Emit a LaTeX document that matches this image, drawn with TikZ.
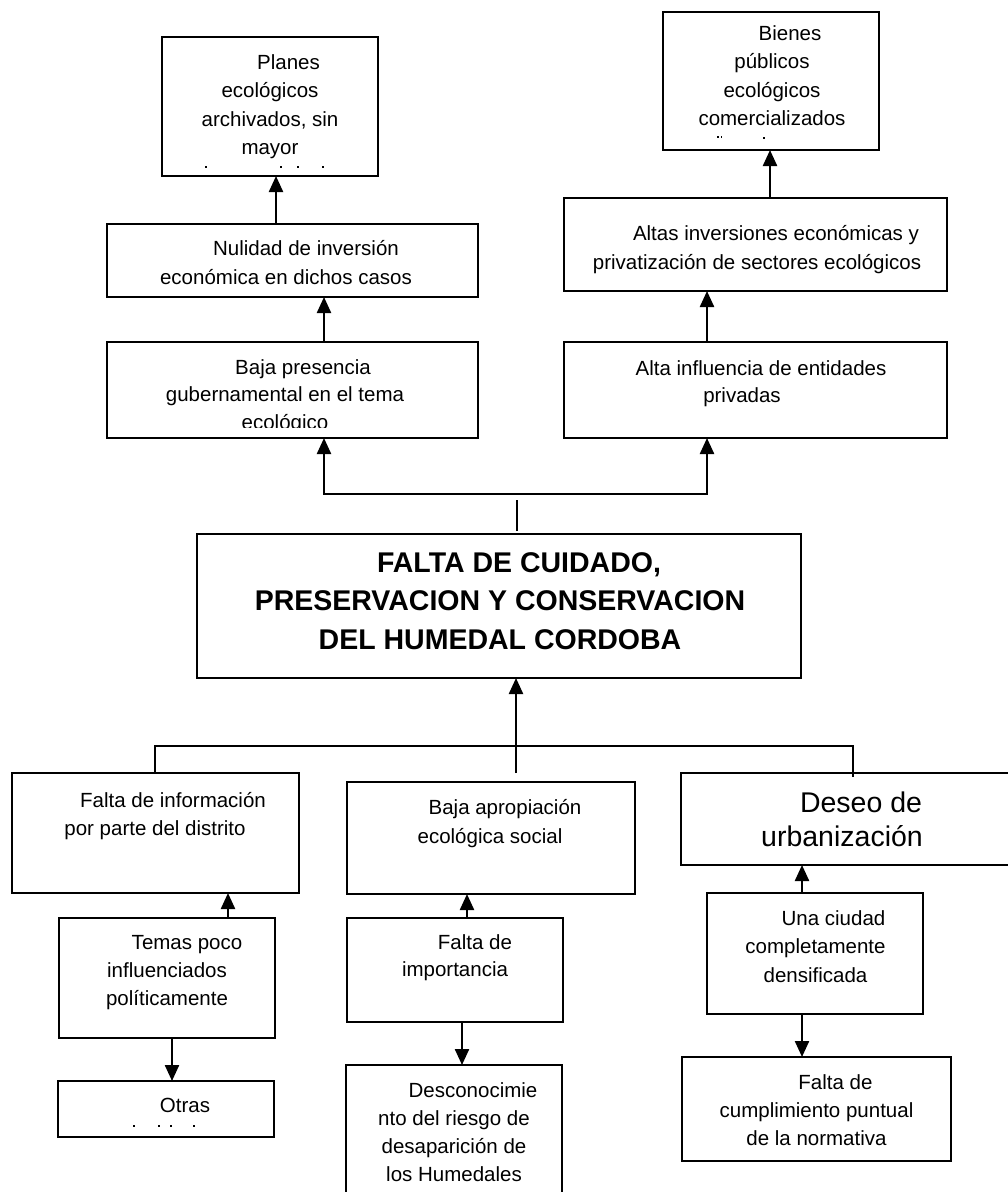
\documentclass[tikz,border=0pt]{standalone}
\usepackage{fontspec}
\setmainfont{Liberation Sans}
\usetikzlibrary{arrows.meta}
\begin{document}
\begin{tikzpicture}[x=1pt,y=-1pt,
  box/.style={draw, line width=1.9pt, inner sep=0pt, outer sep=0pt, rectangle},
  txt/.style={anchor=north, align=center, inner sep=0pt, font=\fontsize{20.5}{28.5}\selectfont},
  arr/.style={line width=2.3pt, -{Triangle[length=16pt,width=14pt]}},
  thinline/.style={line width=1.5pt},
  remn/.style={fill=black}]
\useasboundingbox (0,0) rectangle (1008,1192);
\fill[white] (0,0) rectangle (1008,1192);
\clip (0,0) rectangle (1008,1192);
\newcommand{\st}{\rule{0pt}{20pt}}
% ---------- boxes ----------
\node[box, minimum width=216pt, minimum height=139pt] (planes) at (270,106.5) {};
\node[box, minimum width=216pt, minimum height=138pt] (bienes) at (771,81) {};
\node[box, minimum width=371pt, minimum height=73pt] (nulidad) at (292.5,260.5) {};
\node[box, minimum width=383pt, minimum height=93pt] (altas) at (755.5,244.5) {};
\node[box, minimum width=371pt, minimum height=96pt] (bajapres) at (292.5,390) {};
\node[box, minimum width=383pt, minimum height=96pt] (altainf) at (755.5,390) {};
\node[box, minimum width=604pt, minimum height=144pt] (central) at (499,606) {};
\node[box, minimum width=287pt, minimum height=120pt] (faltainfo) at (155.5,833) {};
\node[box, minimum width=288pt, minimum height=112pt] (bajaaprop) at (491,838) {};
\node[box, minimum width=334pt, minimum height=92pt] (deseo) at (848,819) {};
\node[box, minimum width=216pt, minimum height=120pt] (temas) at (167,978) {};
\node[box, minimum width=216pt, minimum height=56pt] (otras) at (166,1109) {};
\node[box, minimum width=216pt, minimum height=104pt] (faltaimp) at (455,970) {};
\node[box, minimum width=216pt, minimum height=150pt] (descon) at (454,1140) {};
\node[box, minimum width=216pt, minimum height=121pt] (ciudad) at (815,953.5) {};
\node[box, minimum width=269pt, minimum height=104pt] (cumpl) at (816.5,1109) {};
% ---------- texts ----------
\node[txt, font=\fontsize{20.5}{28.4}\selectfont] (planes-t) at (270,49) {\st\hspace*{37pt}Planes\\ecológicos\\archivados, sin\\mayor};
\node[txt, font=\fontsize{20.5}{28.4}\selectfont] (bienes-t) at (772,20) {\st\hspace*{36pt}Bienes\\públicos\\ecológicos\\comercializados};
\node[txt, font=\fontsize{20.5}{29}\selectfont] (nulidad-t) at (286,235) {\st\hspace*{40pt}Nulidad de inversión\\económica en dichos casos};
\node[txt, font=\fontsize{20.5}{29}\selectfont] (altas-t) at (757,220) {\st\hspace*{38pt}Altas inversiones económicas y\\privatización de sectores ecológicos};
\begin{scope}
  \clip (bajapres.north west) rectangle (bajapres.east |- 0,427);
  \node[txt, font=\fontsize{20.5}{27.5}\selectfont] (bajapres-t) at (285,354) {\st\hspace*{36pt}Baja presencia\\gubernamental en el tema\\ecológico};
\end{scope}
\node[txt, font=\fontsize{20.5}{27.5}\selectfont] (altainf-t) at (742,355) {\st\hspace*{38pt}Alta influencia de entidades\\privadas};
\node[txt, font=\fontsize{28.5}{38.5}\selectfont\bfseries] (central-t) at (500,546) {\rule{0pt}{26pt}\hspace*{38pt}FALTA DE CUIDADO,\\PRESERVACION Y CONSERVACION\\DEL HUMEDAL CORDOBA};
\node[txt, font=\fontsize{20.5}{28}\selectfont] (faltainfo-t) at (155,787) {\st\hspace*{36pt}Falta de información\\por parte del distrito};
\node[txt, font=\fontsize{20.5}{29}\selectfont] (bajaaprop-t) at (490,794) {\st\hspace*{30pt}Baja apropiación\\ecológica social};
\node[txt, font=\fontsize{28.5}{34}\selectfont] (deseo-t) at (842,788) {\rule{0pt}{24pt}\hspace*{38pt}Deseo de\\urbanización};
\node[txt, font=\fontsize{20.5}{28}\selectfont] (temas-t) at (167,929) {\st\hspace*{40pt}Temas poco\\influenciados\\políticamente};
\node[txt] (otras-t) at (166,1092) {\st\hspace*{38pt}Otras};
\node[txt, font=\fontsize{20.5}{27.5}\selectfont] (faltaimp-t) at (455,929) {\st\hspace*{40pt}Falta de\\importancia};
\node[txt, font=\fontsize{20.5}{28}\selectfont] (descon-t) at (454,1077) {\st\hspace*{38pt}Desconocimie\\nto del riesgo de\\desaparición de\\los Humedales};
\node[txt, font=\fontsize{20.5}{28.5}\selectfont] (ciudad-t) at (815.5,905) {\st\hspace*{36pt}Una ciudad\\completamente\\densificada};
\node[txt, font=\fontsize{20.5}{28}\selectfont] (cumpl-t) at (816.5,1069) {\st\hspace*{38pt}Falta de\\cumplimiento puntual\\de la normativa};
% ---------- clipped remnants ----------
\fill[remn] (205,166) rectangle +(1.8,2.2);
\fill[remn] (280,166) rectangle +(1.8,2.2);
\fill[remn] (297,166) rectangle +(1.8,2.2);
\fill[remn] (322,166) rectangle +(1.8,2.2);
\fill[remn] (717,136) rectangle +(1.5,2.2);
\fill[remn] (720.5,136) rectangle +(1.5,2.2);
\fill[remn] (763,137) rectangle +(1.8,1.8);
\fill[remn] (133,1125) rectangle +(1.8,1.8);
\fill[remn] (158,1125) rectangle +(1.8,1.8);
\fill[remn] (170,1125) rectangle +(1.8,1.8);
\fill[remn] (193,1125) rectangle +(1.8,1.8);
% ---------- connectors, upper part ----------
\draw[arr] (nulidad.north -| 276,0) -- (planes.south -| 276,0);
\draw[arr] (altas.north -| 770,0) -- (bienes.south -| 770,0);
\draw[arr] (bajapres.north -| 324,0) -- (nulidad.south -| 324,0);
\draw[arr] (altainf.north -| 707,0) -- (altas.south -| 707,0);
\coordinate (tl) at (324,494);
\coordinate (tr) at (707,494);
\draw[line width=2.3pt, {Triangle[length=16pt,width=14pt]}-{Triangle[length=16pt,width=14pt]}]
  (bajapres.south -| tl) -- (tl) -- (tr) -- (altainf.south -| tr);
\coordinate (stubtop) at (517,500);
\draw[thinline, shorten >=3pt] (stubtop) -- (stubtop |- central.north);
% ---------- connectors, lower part ----------
\coordinate (cb) at (516,773);
\draw[arr] (cb) -- (central.south -| cb);
\coordinate (bl) at (155,746);
\coordinate (br) at (853,746);
\draw[thinline] (faltainfo.north -| bl) -- (bl) -- (br) -- ([yshift=-4pt]deseo.north -| br);
\draw[arr] (temas.north -| 228,0) -- (faltainfo.south -| 228,0);
\draw[arr] (temas.south -| 172,0) -- (otras.north -| 172,0);
\draw[arr] (faltaimp.north -| 467,0) -- (bajaaprop.south -| 467,0);
\draw[arr] (faltaimp.south -| 462,0) -- (descon.north -| 462,0);
\draw[arr] (ciudad.north -| 802,0) -- (deseo.south -| 802,0);
\draw[arr] (ciudad.south -| 802,0) -- (cumpl.north -| 802,0);
\end{tikzpicture}
\end{document}
